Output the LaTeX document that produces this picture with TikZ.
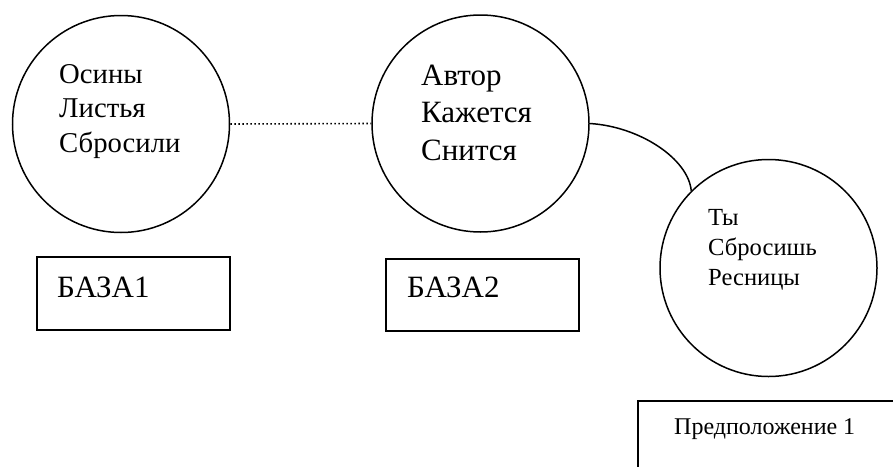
\documentclass[tikz,border=0pt]{standalone}
\usepackage{fontspec}
\setmainfont{Liberation Serif}
\begin{document}
\begin{tikzpicture}[x=1pt,y=-1pt,
  circ/.style={draw, circle, line width=1.5pt, minimum size=217pt, inner sep=0pt},
  box/.style={draw, rectangle, line width=1.5pt, inner sep=0pt},
  lbl/.style={anchor=base west, inner sep=0pt},
  conn/.style={line width=1.5pt},
  dotconn/.style={line width=1.6pt, dash pattern=on 1.6pt off 2.4pt}]
\useasboundingbox (0,0) rectangle (893,466);
\clip (0,0) rectangle (893,466);
% circles
\node[circ] (c1) at (121,124) {};
\node[circ] (c2) at (480.5,123.5) {};
\node[circ] (c3) at (768.5,268) {};
% circle texts
\node[lbl] (t1) at (59,83) {\fontsize{28.7}{34.5}\selectfont\begin{tabular}[t]{@{}l@{}}Осины\\Листья\\Сбросили\end{tabular}};
\node[lbl] (t2) at (421,85) {\fontsize{31}{37.5}\selectfont\begin{tabular}[t]{@{}l@{}}Автор\\Кажется\\Снится\end{tabular}};
\node[lbl] (t3) at (708,225) {\fontsize{24.6}{30}\selectfont\begin{tabular}[t]{@{}l@{}}Ты\\Сбросишь\\Ресницы\end{tabular}};
% boxes
\node[box, anchor=north west, minimum width=193pt, minimum height=73pt] (b1) at (36,256) {};
\node[box, anchor=north west, minimum width=193pt, minimum height=72pt] (b2) at (385,258) {};
\node[box, anchor=north west, minimum width=300pt, minimum height=120pt] (b3) at (637,400) {};
\node[lbl] (bt1) at (57,297) {\fontsize{31}{36}\selectfont БАЗА1};
\node[lbl] (bt2) at (407,297) {\fontsize{31}{36}\selectfont БАЗА2};
\node[lbl] (bt3) at (674,434) {\fontsize{24}{29}\selectfont Предположение 1};
% connectors
\draw[dotconn] (c1.east) -- (c2.west);
\draw[conn] (c2.east) .. controls +(50,3) and +(-3,-32) .. (c3.135);
\end{tikzpicture}
\end{document}
